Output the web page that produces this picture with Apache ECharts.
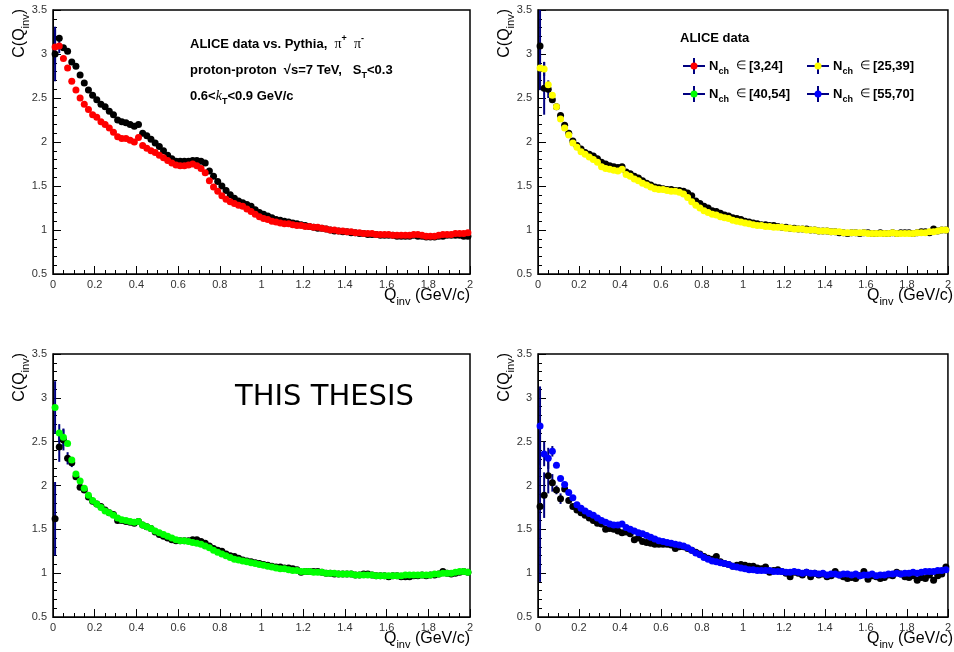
<!DOCTYPE html>
<html>
<head>
<meta charset="utf-8">
<script src="https://cdn.jsdelivr.net/npm/echarts@6/dist/echarts.min.js"></script>
<style>
html,body{margin:0;padding:0;background:#fff;}
#chart{width:954px;height:652px;}
</style>
</head>
<body>
<div id="chart"></div>
<script>
// Bin centres of Q_inv (GeV/c)
const Q_INV = [0.01,0.03,0.05,0.07,0.09,0.11,0.13,0.15,0.17,0.19,
 0.21,0.23,0.25,0.27,0.29,0.31,0.33,0.35,0.37,0.39,
 0.41,0.43,0.45,0.47,0.49,0.51,0.53,0.55,0.57,0.59,
 0.61,0.63,0.65,0.67,0.69,0.71,0.73,0.75,0.77,0.79,
 0.81,0.83,0.85,0.87,0.89,0.91,0.93,0.95,0.97,0.99,
 1.01,1.03,1.05,1.07,1.09,1.11,1.13,1.15,1.17,1.19,
 1.21,1.23,1.25,1.27,1.29,1.31,1.33,1.35,1.37,1.39,
 1.41,1.43,1.45,1.47,1.49,1.51,1.53,1.55,1.57,1.59,
 1.61,1.63,1.65,1.67,1.69,1.71,1.73,1.75,1.77,1.79,
 1.81,1.83,1.85,1.87,1.89,1.91,1.93,1.95,1.97,1.99];

const X_TICKS = [0,0.2,0.4,0.6,0.8,1,1.2,1.4,1.6,1.8,2];
const Y_TICKS = [0.5,1,1.5,2,2.5,3,3.5];

// Panel 1: N_ch in [3,24] (red) vs Pythia (black)
const P1_ALICE = [3.08,3.09,2.95,2.84,2.69,2.59,2.50,2.43,2.37,2.31,
 2.28,2.23,2.20,2.16,2.11,2.06,2.04,2.04,2.02,2.00,
 2.05,1.96,1.93,1.90,1.88,1.85,1.82,1.79,1.76,1.74,
 1.73,1.73,1.74,1.75,1.73,1.70,1.65,1.56,1.49,1.44,
 1.39,1.35,1.32,1.30,1.28,1.27,1.24,1.21,1.18,1.15,
 1.13,1.12,1.10,1.09,1.08,1.07,1.07,1.06,1.05,1.05,
 1.04,1.04,1.03,1.03,1.02,1.01,1.00,1.00,0.99,0.99,
 0.98,0.98,0.97,0.97,0.96,0.96,0.96,0.95,0.95,0.95,
 0.95,0.94,0.94,0.94,0.94,0.94,0.95,0.95,0.94,0.93,
 0.93,0.93,0.94,0.95,0.95,0.95,0.96,0.96,0.96,0.97];
const P1_PYTHIA = [3.00,3.18,3.07,3.03,2.91,2.86,2.76,2.67,2.59,2.53,
 2.48,2.43,2.40,2.35,2.31,2.25,2.23,2.22,2.20,2.18,
 2.20,2.10,2.07,2.03,1.99,1.95,1.90,1.85,1.81,1.78,
 1.78,1.78,1.78,1.79,1.79,1.78,1.76,1.67,1.61,1.55,
 1.50,1.45,1.40,1.36,1.33,1.31,1.29,1.27,1.23,1.20,
 1.18,1.16,1.14,1.12,1.11,1.10,1.09,1.08,1.07,1.06,
 1.05,1.04,1.03,1.02,1.02,1.01,1.00,0.99,0.99,0.98,
 0.98,0.97,0.97,0.96,0.96,0.95,0.95,0.95,0.94,0.94,
 0.94,0.94,0.93,0.93,0.93,0.93,0.94,0.93,0.93,0.92,
 0.92,0.92,0.93,0.93,0.94,0.94,0.94,0.94,0.93,0.93];
const P1_ALICE_ERR = [0.2,0.08];
const P1_PYTHIA_ERR = [0.31];

// Panel 2: N_ch in [25,39] (yellow) vs Pythia (black)
const P2_ALICE = [2.84,2.83,2.65,2.53,2.40,2.26,2.16,2.08,1.99,1.94,
 1.89,1.86,1.83,1.80,1.77,1.72,1.70,1.69,1.68,1.67,
 1.69,1.63,1.61,1.58,1.56,1.53,1.51,1.49,1.47,1.46,
 1.46,1.45,1.44,1.44,1.43,1.41,1.37,1.32,1.28,1.25,
 1.22,1.20,1.18,1.17,1.15,1.14,1.13,1.11,1.10,1.09,
 1.08,1.07,1.06,1.05,1.05,1.04,1.04,1.03,1.03,1.03,
 1.02,1.02,1.01,1.01,1.01,1.00,1.00,1.00,0.99,0.99,
 0.99,0.98,0.98,0.98,0.97,0.97,0.97,0.97,0.97,0.97,
 0.96,0.96,0.96,0.96,0.96,0.96,0.97,0.96,0.96,0.96,
 0.96,0.96,0.97,0.97,0.97,0.98,0.98,0.99,1.00,1.00];
const P2_PYTHIA = [3.09,2.61,2.60,2.48,2.40,2.30,2.19,2.10,2.01,1.96,
 1.92,1.88,1.86,1.84,1.81,1.77,1.75,1.73,1.72,1.71,
 1.72,1.66,1.64,1.61,1.59,1.56,1.53,1.51,1.49,1.48,
 1.47,1.46,1.46,1.45,1.45,1.44,1.42,1.39,1.33,1.30,
 1.27,1.25,1.22,1.21,1.19,1.17,1.16,1.14,1.13,1.12,
 1.10,1.09,1.08,1.07,1.06,1.06,1.05,1.05,1.04,1.03,
 1.03,1.02,1.02,1.01,1.01,1.01,1.00,1.00,0.99,0.99,
 0.99,0.98,0.98,0.97,0.97,0.96,0.97,0.97,0.96,0.97,
 0.97,0.96,0.96,0.97,0.96,0.96,0.97,0.96,0.97,0.97,
 0.97,0.96,0.97,0.98,0.98,0.97,1.01,0.99,1.00,1.00];
const P2_ALICE_ERR = [0.25,0.08];
const P2_PYTHIA_ERR = [0.5,0.3,0.1];

// Panel 3: N_ch in [40,54] (green) vs Pythia (black)
const P3_ALICE = [2.89,2.60,2.55,2.48,2.29,2.13,2.05,1.97,1.89,1.83,
 1.79,1.75,1.71,1.69,1.66,1.63,1.61,1.60,1.59,1.58,
 1.59,1.55,1.53,1.51,1.48,1.46,1.44,1.42,1.40,1.38,
 1.37,1.37,1.36,1.35,1.34,1.33,1.31,1.29,1.26,1.24,
 1.22,1.20,1.18,1.16,1.15,1.14,1.13,1.12,1.11,1.10,
 1.09,1.08,1.07,1.06,1.05,1.05,1.04,1.03,1.03,1.02,
 1.02,1.02,1.01,1.01,1.01,1.00,1.00,1.00,0.99,0.99,
 0.99,0.99,0.98,0.98,0.98,0.98,0.98,0.97,0.97,0.97,
 0.97,0.97,0.97,0.97,0.98,0.98,0.98,0.98,0.98,0.98,
 0.98,0.99,0.99,1.00,1.00,1.00,1.01,1.02,1.02,1.01];
const P3_PYTHIA = [1.62,2.44,2.52,2.31,2.26,2.10,1.98,1.95,1.87,1.82,
 1.79,1.76,1.72,1.69,1.67,1.60,1.60,1.59,1.58,1.57,
 1.59,1.55,1.53,1.51,1.47,1.44,1.42,1.40,1.38,1.37,
 1.37,1.37,1.37,1.38,1.38,1.36,1.34,1.31,1.28,1.26,
 1.25,1.22,1.20,1.19,1.17,1.15,1.14,1.13,1.12,1.11,
 1.10,1.09,1.08,1.07,1.07,1.06,1.06,1.05,1.04,1.01,
 1.02,1.02,1.02,1.02,1.01,1.00,1.00,0.99,0.99,0.99,
 0.99,0.99,0.98,0.98,0.99,0.99,0.98,0.97,0.97,0.97,
 0.96,0.97,0.97,0.96,0.96,0.96,0.97,0.97,0.98,0.97,
 0.98,0.98,0.99,1.02,1.00,0.99,1.00,1.01,1.02,1.01];
const P3_ALICE_ERR = [0.3,0.1,0.1];
const P3_PYTHIA_ERR = [0.42,0.17,0.12,0.07,0.05];

// Panel 4: N_ch in [55,70] (blue) vs Pythia (black)
const P4_ALICE = [2.68,2.36,2.31,2.39,2.23,2.08,2.01,1.92,1.86,1.78,
 1.74,1.71,1.68,1.66,1.63,1.60,1.58,1.56,1.55,1.55,
 1.56,1.52,1.50,1.48,1.46,1.45,1.43,1.41,1.39,1.37,
 1.36,1.35,1.34,1.33,1.32,1.31,1.29,1.26,1.23,1.21,
 1.18,1.16,1.14,1.13,1.12,1.11,1.10,1.08,1.07,1.06,
 1.05,1.04,1.04,1.03,1.03,1.03,1.03,1.02,1.02,1.02,
 1.01,1.01,1.02,1.01,1.00,1.01,1.00,1.00,0.99,1.00,
 0.98,0.99,0.99,0.98,0.99,0.99,0.98,0.99,0.97,0.98,
 0.98,0.99,0.97,0.98,0.98,0.99,0.99,1.00,0.99,1.00,
 1.00,1.01,1.00,1.01,1.02,1.02,1.02,1.03,1.03,1.04];
const P4_PYTHIA = [1.76,1.89,2.11,2.03,1.95,1.85,1.96,1.83,1.76,1.72,
 1.69,1.66,1.63,1.60,1.57,1.56,1.50,1.51,1.50,1.48,
 1.46,1.47,1.45,1.38,1.40,1.36,1.35,1.34,1.33,1.33,
 1.33,1.33,1.32,1.28,1.30,1.30,1.28,1.26,1.24,1.22,
 1.19,1.17,1.16,1.19,1.13,1.11,1.10,1.08,1.09,1.10,
 1.09,1.08,1.08,1.06,1.05,1.07,1.01,1.03,1.04,1.02,
 1.00,0.96,1.01,1.00,0.98,1.01,0.96,1.00,0.98,0.99,
 0.96,0.97,1.02,0.98,0.96,0.94,0.95,0.94,0.97,1.02,
 0.93,0.97,0.96,0.94,0.95,0.98,0.97,1.01,0.99,0.96,
 0.95,0.97,0.92,0.95,0.94,0.98,0.92,0.97,0.99,1.07];
const P4_ALICE_ERR = [0.45,0.14,0.12,0.06];
const P4_PYTHIA_ERR = [0.86,0.26,0.2,0.1,0.05,0.06];

const LEGEND_LABELS = ['[3,24]','[25,39]','[40,54]','[55,70]'];
const COLORS = ['#ff0000','#ffff00','#00ff00','#0000ff'];

const PANELS = [
  {alice:P1_ALICE, pythia:P1_PYTHIA, aErr:P1_ALICE_ERR, pErr:P1_PYTHIA_ERR, color:COLORS[0]},
  {alice:P2_ALICE, pythia:P2_PYTHIA, aErr:P2_ALICE_ERR, pErr:P2_PYTHIA_ERR, color:COLORS[1]},
  {alice:P3_ALICE, pythia:P3_PYTHIA, aErr:P3_ALICE_ERR, pErr:P3_PYTHIA_ERR, color:COLORS[2]},
  {alice:P4_ALICE, pythia:P4_PYTHIA, aErr:P4_ALICE_ERR, pErr:P4_PYTHIA_ERR, color:COLORS[3]}
];

const GRIDS = [
  {left:53, top:10, width:417, height:264},
  {left:538, top:10, width:415, height:264},
  {left:53, top:354, width:417, height:263},
  {left:538, top:354, width:415, height:263}
];

const FONT = '"Liberation Sans", Arial, Helvetica, sans-serif';
const ERR_COLOR = '#000080';
const HALF_BIN = 0.01;
const Y_MIN = Y_TICKS[0], Y_MAX = Y_TICKS[Y_TICKS.length-1];

const chart = echarts.init(document.getElementById('chart'), null, {renderer:'canvas'});

const xAxes = [], yAxes = [], series = [];
GRIDS.forEach((g, k) => {
  xAxes.push({
    type:'value', gridIndex:k, min:X_TICKS[0], max:X_TICKS[X_TICKS.length-1], interval:0.2,
    axisLine:{show:true, lineStyle:{color:'#000', width:1}},
    axisTick:{show:true, inside:true, length:8, lineStyle:{color:'#000', width:1}},
    minorTick:{show:true, splitNumber:4, length:4, lineStyle:{color:'#000', width:1}},
    splitLine:{show:false},
    axisLabel:{color:'#333', fontFamily:FONT, fontSize:11, margin:5,
      formatter: v => String(+v.toFixed(1))}
  });
  yAxes.push({
    type:'value', gridIndex:k, min:Y_MIN, max:Y_MAX, interval:0.5,
    axisLine:{show:true, lineStyle:{color:'#000', width:1}},
    axisTick:{show:true, inside:true, length:8, lineStyle:{color:'#000', width:1}},
    minorTick:{show:true, splitNumber:5, length:4, lineStyle:{color:'#000', width:1}},
    splitLine:{show:false},
    axisLabel:{color:'#333', fontFamily:FONT, fontSize:11, margin:6,
      formatter: v => String(+v.toFixed(1))}
  });
});

function errSeries(k, vals, errs) {
  return {
    type:'custom', xAxisIndex:k, yAxisIndex:k, z:2, silent:true,
    data: errs.map((e, i) => [Q_INV[i], vals[i], e]),
    renderItem: (params, api) => {
      const x = api.value(0), y = api.value(1), e = api.value(2);
      const lo = Math.max(y - e, Y_MIN), hi = Math.min(y + e, Y_MAX);
      const p1 = api.coord([x, lo]), p2 = api.coord([x, hi]);
      const h1 = api.coord([Math.max(x - HALF_BIN, 0), y]), h2 = api.coord([x + HALF_BIN, y]);
      return {type:'group', children:[
        {type:'line', shape:{x1:p1[0], y1:p1[1], x2:p2[0], y2:p2[1]}, style:{stroke:ERR_COLOR, lineWidth:2}},
        {type:'line', shape:{x1:h1[0], y1:h1[1], x2:h2[0], y2:h2[1]}, style:{stroke:ERR_COLOR, lineWidth:2}}
      ]};
    }
  };
}

PANELS.forEach((p, k) => {
  series.push(errSeries(k, p.pythia, p.pErr));
  series.push(errSeries(k, p.alice, p.aErr));
  series.push({
    type:'scatter', xAxisIndex:k, yAxisIndex:k, z:3, symbol:'circle', symbolSize:7,
    itemStyle:{color:'#000', opacity:1}, silent:true,
    data: p.pythia.map((v, i) => [Q_INV[i], v])
  });
  series.push({
    type:'scatter', xAxisIndex:k, yAxisIndex:k, z:4, symbol:'circle', symbolSize:7,
    itemStyle:{color:p.color, opacity:1}, silent:true,
    data: p.alice.map((v, i) => [Q_INV[i], v])
  });
});

// Text / annotation graphics
const graphics = [];
const subRich = {
  m:{fontFamily:FONT, fontSize:16, color:'#222', lineHeight:22, verticalAlign:'middle'},
  s:{fontFamily:FONT, fontSize:11, color:'#222', lineHeight:22, verticalAlign:'bottom', padding:[0,0,0,0]}
};
GRIDS.forEach((g, k) => {
  graphics.push({
    type:'text', x:g.left - 33, y:g.top - 1, rotation:Math.PI/2,
    style:{text:'{m|C(Q}{s|inv}{m|)}', rich:subRich, align:'right', verticalAlign:'middle'}
  });
  graphics.push({
    type:'text', x:g.left + g.width, y:g.top + g.height + 22,
    style:{text:'{m|Q}{s|inv}{m| (GeV/c)}', rich:subRich, align:'right', verticalAlign:'middle'}
  });
});

const boldRich = {
  b:{fontFamily:FONT, fontSize:13, fontWeight:'bold', color:'#000', lineHeight:20, verticalAlign:'middle'},
  pi:{fontFamily:'"Liberation Serif", "DejaVu Serif", serif', fontSize:14, color:'#000', lineHeight:20, verticalAlign:'middle'},
  sup:{fontFamily:FONT, fontSize:9, fontWeight:'bold', color:'#000', lineHeight:20, verticalAlign:'top'},
  sub:{fontFamily:FONT, fontSize:9, fontWeight:'bold', color:'#000', lineHeight:20, verticalAlign:'bottom'},
  k:{fontFamily:'"Liberation Serif", "DejaVu Serif", serif', fontStyle:'italic', fontSize:14, color:'#000', lineHeight:20, verticalAlign:'middle'},
  n:{fontFamily:FONT, fontSize:12, color:'#000', lineHeight:20, verticalAlign:'middle'}
};
graphics.push({type:'text', x:190, y:44, style:{text:'{b|ALICE data vs. Pythia,  }{pi|π}{sup|+}{b|  }{pi|π}{sup|-}', rich:boldRich, align:'left', verticalAlign:'middle'}});
graphics.push({type:'text', x:190, y:70, style:{text:'{b|proton-proton  √s=7 TeV,   S}{sub|T}{b|<0.3}', rich:boldRich, align:'left', verticalAlign:'middle'}});
graphics.push({type:'text', x:190, y:96, style:{text:'{b|0.6<}{k|k}{sub|T}{b|<0.9 GeV/c}', rich:boldRich, align:'left', verticalAlign:'middle'}});

graphics.push({type:'text', x:680, y:38, style:{text:'{b|ALICE data}', rich:boldRich, align:'left', verticalAlign:'middle'}});
const LEG_POS = [[694,66],[818,66],[694,94],[818,94]];
LEGEND_LABELS.forEach((lab, i) => {
  const [cx, cy] = LEG_POS[i];
  graphics.push({type:'line', shape:{x1:cx-11, y1:cy, x2:cx+11, y2:cy}, style:{stroke:ERR_COLOR, lineWidth:2}});
  graphics.push({type:'line', shape:{x1:cx, y1:cy-8, x2:cx, y2:cy+8}, style:{stroke:ERR_COLOR, lineWidth:2}});
  graphics.push({type:'circle', shape:{cx:cx, cy:cy, r:3.5}, style:{fill:COLORS[i]}});
  graphics.push({type:'text', x:cx+15, y:cy, style:{text:'{b|N}{sub|ch}{n|  ∈ }{b|' + lab + '}', rich:boldRich, align:'left', verticalAlign:'middle'}});
});

graphics.push({type:'text', x:235, y:397, style:{text:'THIS THESIS', fontFamily:'"DejaVu Sans", sans-serif', fontSize:29, fill:'#000', align:'left', verticalAlign:'middle'}});

chart.setOption({
  animation:false,
  backgroundColor:'#fff',
  grid: GRIDS.map(g => Object.assign({show:true, borderColor:'#000', borderWidth:1.5, backgroundColor:'transparent'}, g)),
  xAxis: xAxes,
  yAxis: yAxes,
  series: series,
  graphic: graphics
});
</script>
</body>
</html>
